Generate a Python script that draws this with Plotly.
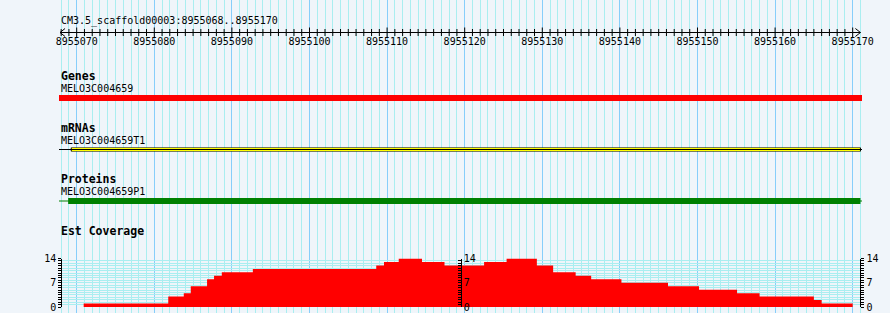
import plotly.graph_objects as go

# ---------------- data ----------------
REF_NAME = "CM3.5_scaffold00003"
VIEW_START = 8955068
VIEW_END = 8955170

RULER_MAJOR = [8955070, 8955080, 8955090, 8955100, 8955110, 8955120,
               8955130, 8955140, 8955150, 8955160, 8955170]
RULER_LABELS = ["8955070", "8955080", "8955090", "8955100", "8955110", "8955120",
                "8955130", "8955140", "8955150", "8955160", "8955170"]
RULER_MINOR = list(range(VIEW_START, VIEW_END + 1))

GENE_NAME = "MELO3C004659"
GENE_START, GENE_END = 8955060, 8955180          # extends past both view edges

MRNA_NAME = "MELO3C004659T1"
MRNA_START, MRNA_END = 8955060, 8955180
MRNA_EXON_START, MRNA_EXON_END = 8955069.3, 8955171.0

PROT_NAME = "MELO3C004659P1"
PROT_START, PROT_END = 8955060, 8955180
PROT_CDS_START, PROT_CDS_END = 8955068.9, 8955171.0

COV_EDGES = [8955070.9, 8955081.8, 8955083.8, 8955084.7, 8955086.8, 8955087.7,
             8955088.7, 8955092.7, 8955108.6, 8955109.6, 8955111.5, 8955114.5,
             8955117.4, 8955122.5, 8955125.4, 8955129.3, 8955131.4, 8955134.3,
             8955136.3, 8955140.2, 8955146.2, 8955150.2, 8955155.1, 8955158.0,
             8955165.0, 8955166.0, 8955170.0]
COV_VALUES = [1, 3, 4, 6, 8, 9, 10, 11, 12, 13, 14, 13, 12, 13, 14, 12,
              10, 9, 8, 7, 6, 5, 4, 3, 2, 1]
COV_MAX = 14
COV_TICKS = [0, 7, 14]
COV_TICK_LABELS = ["0", "7", "14"]
COV_AXIS_POS = [VIEW_START, 8955119.5, VIEW_END + 1]

TRACK_TITLES = ["Genes", "mRNAs", "Proteins", "Est Coverage"]

# ---------------- style / layout ----------------
W, H = 890, 313
BG = "#F0F5FA"
MINOR_GRID = "#AAEEF0"
MAJOR_GRID = "#87CEFA"
MONO = "DejaVu Sans Mono"
X0, X1 = 8955067.72, 8955171.2
PL, PR = 59, 862
CLEAR = "rgba(0,0,0,0)"


def py(px):
    return (H - px) / H


def pxx(bp):
    return (PL + (bp - X0) / (X1 - X0) * (PR - PL)) / W


fig = go.Figure()

hidden = dict(visible=False, fixedrange=True, automargin=False)

# full-height subplot that owns the vertical grid
fig.add_trace(go.Scatter(x=[VIEW_START, VIEW_END], y=[0.5, 0.5], mode="markers",
                         marker=dict(opacity=0), hoverinfo="skip", showlegend=False))

# ruler
rs, re_ = VIEW_START - 0.15, VIEW_END + 1.0
fig.add_trace(go.Scatter(x=[rs, re_], y=[0, 0], xaxis="x2", yaxis="y8", mode="lines",
                         line=dict(color="black", width=1), hoverinfo="skip", showlegend=False))
fig.add_trace(go.Scatter(x=[v for v in RULER_MINOR if v not in RULER_MAJOR],
                         y=[0] * (len(RULER_MINOR) - len(RULER_MAJOR)), xaxis="x2", yaxis="y8",
                         mode="markers",
                         marker=dict(symbol="line-ns", size=5, line=dict(width=1, color="black")),
                         hoverinfo="skip", showlegend=False))
fig.add_trace(go.Scatter(x=RULER_MAJOR, y=[0] * len(RULER_MAJOR), xaxis="x2", yaxis="y8",
                         mode="markers",
                         marker=dict(symbol="line-ns", size=9, line=dict(width=1, color="black")),
                         hoverinfo="skip", showlegend=False))
a = 0.65
fig.add_trace(go.Scatter(x=[rs + a, rs, rs + a, None, re_ - a, re_, re_ - a],
                         y=[0.8, 0, -0.8, None, 0.8, 0, -0.8], xaxis="x2", yaxis="y8", mode="lines",
                         line=dict(color="black", width=1), hoverinfo="skip", showlegend=False))
fig.add_trace(go.Scatter(x=RULER_MAJOR, y=[0] * len(RULER_MAJOR), xaxis="x2", yaxis="y9",
                         mode="text", text=RULER_LABELS, textposition="middle center",
                         textfont=dict(family=MONO, size=10, color="black"),
                         hoverinfo="skip", showlegend=False, cliponaxis=False))

# genes
fig.add_trace(go.Bar(orientation="h", y=[0], x=[GENE_END - GENE_START], base=[GENE_START],
                     width=1, xaxis="x2", yaxis="y2",
                     marker=dict(color="#FF0000", line=dict(width=0)),
                     hoverinfo="skip", showlegend=False))
# mRNA
fig.add_trace(go.Scatter(x=[MRNA_START, MRNA_END], y=[0, 0], xaxis="x2", yaxis="y3", mode="lines",
                         line=dict(color="black", width=1), hoverinfo="skip", showlegend=False))
fig.add_trace(go.Bar(orientation="h", y=[0], x=[MRNA_EXON_END - MRNA_EXON_START],
                     base=[MRNA_EXON_START], width=1, xaxis="x2", yaxis="y3",
                     marker=dict(color="#FFFF00", line=dict(width=1, color="black")),
                     hoverinfo="skip", showlegend=False))
# protein
fig.add_trace(go.Scatter(x=[PROT_START, PROT_END], y=[0, 0], xaxis="x2", yaxis="y4", mode="lines",
                         line=dict(color="#008000", width=1), hoverinfo="skip", showlegend=False))
fig.add_trace(go.Bar(orientation="h", y=[0], x=[PROT_CDS_END - PROT_CDS_START],
                     base=[PROT_CDS_START], width=1, xaxis="x2", yaxis="y4",
                     marker=dict(color="#008000", line=dict(width=0)),
                     hoverinfo="skip", showlegend=False))

# coverage as a filled step profile
fig.add_trace(go.Scatter(x=COV_EDGES, y=COV_VALUES + COV_VALUES[-1:], xaxis="x2", yaxis="y5",
                         mode="lines", line=dict(shape="hv", width=0, color="#FF0000"),
                         fill="tozeroy", fillcolor="#FF0000",
                         hoverinfo="skip", showlegend=False))
for ax in ["y6", "y7"]:
    fig.add_trace(go.Scatter(x=COV_EDGES[:-1], y=COV_VALUES, xaxis="x2", yaxis=ax, mode="markers",
                             marker=dict(opacity=0), hoverinfo="skip", showlegend=False))

cov_axis = dict(range=[0, COV_MAX], tickvals=COV_TICKS, ticktext=COV_TICK_LABELS,
                tickfont=dict(family=MONO, size=10, color="black"),
                showline=True, linecolor="black", linewidth=1, automargin=False,
                ticklen=3, tickwidth=1, tickcolor="black", zeroline=False, fixedrange=True)
cov_minor = dict(tick0=0, dtick=0.7, ticklen=3, tickwidth=1, tickcolor="black")

annotations = []
def label(text, ycenter, bold=False):
    annotations.append(dict(text=text, xref="paper", yref="paper", x=59 / W, y=py(ycenter),
                            xanchor="left", yanchor="middle", showarrow=False,
                            font=dict(family=MONO, size=11.5 if bold else 10, color="black",
                                      weight="bold" if bold else "normal")))

label(f"{REF_NAME}:{VIEW_START}..{VIEW_END}", 21)
label(TRACK_TITLES[0], 76, True)
label(GENE_NAME, 88)
label(TRACK_TITLES[1], 128.5, True)
label(MRNA_NAME, 140.5)
label(TRACK_TITLES[2], 179, True)
label(PROT_NAME, 191)
label(TRACK_TITLES[3], 231, True)

fig.update_layout(
    template="none",
    width=W, height=H, margin=dict(l=0, r=0, t=0, b=0, pad=0, autoexpand=False),
    font=dict(family=MONO, size=10, color="black"),
    paper_bgcolor=BG, plot_bgcolor=CLEAR, barmode="overlay", showlegend=False,
    xaxis=dict(domain=[PL / W, PR / W], range=[X0, X1], anchor="y", automargin=False,
               showgrid=True, gridcolor=MAJOR_GRID, gridwidth=1, tick0=8955070, dtick=10,
               showticklabels=False, ticks="", zeroline=False, showline=False, fixedrange=True,
               minor=dict(showgrid=True, gridcolor=MINOR_GRID, gridwidth=1, tick0=8955070, dtick=1,
                          ticks="")),
    xaxis2=dict(domain=[PL / W, PR / W], range=[X0, X1], anchor="y2", matches="x",
                showgrid=False, **hidden),
    yaxis=dict(domain=[0, 1], range=[0, 1], anchor="x", **hidden),
    yaxis2=dict(domain=[py(101), py(95)], range=[-0.5, 0.5], anchor="x2", **hidden),
    yaxis3=dict(domain=[py(151.5), py(147.5)], range=[-0.5, 0.5], anchor="x2", **hidden),
    yaxis4=dict(domain=[py(204), py(198)], range=[-0.5, 0.5], anchor="x2", **hidden),
    yaxis5=dict(domain=[py(307), py(258.5)], anchor="free", position=pxx(COV_AXIS_POS[0]),
                side="left", ticks="outside", showgrid=True, gridcolor=MINOR_GRID, gridwidth=1,
                minor=dict(cov_minor, ticks="outside", showgrid=True, gridcolor=MINOR_GRID),
                **cov_axis),
    yaxis6=dict(overlaying="y5", anchor="free", position=pxx(COV_AXIS_POS[1]), side="right",
                ticks="inside", showgrid=False, minor=dict(cov_minor, ticks="inside"),
                **cov_axis),
    yaxis7=dict(overlaying="y5", anchor="free", position=pxx(COV_AXIS_POS[2]), side="right",
                ticks="outside", showgrid=False, minor=dict(cov_minor, ticks="outside"),
                **cov_axis),
    yaxis8=dict(domain=[py(37.5), py(27.5)], range=[-1, 1], anchor="x2", **hidden),
    yaxis9=dict(domain=[py(47), py(37)], range=[-1, 1], anchor="x2", **hidden),
    annotations=annotations,
)

fig.write_html("out.html")
